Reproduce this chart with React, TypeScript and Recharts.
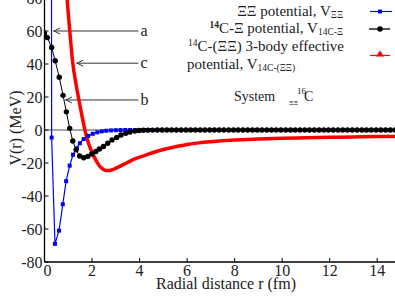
import React from "react";
import { LineChart, Line, XAxis, YAxis, ReferenceLine } from "recharts";

// Xi-Xi potential (blue)
const blueR = [0.15, 0.3, 0.44, 0.61, 0.77, 0.91, 1.06, 1.2, 1.36, 1.49, 1.65, 1.84, 2.03, 2.22, 2.41, 2.6, 2.8, 3.0, 3.2, 3.4, 3.6, 3.8, 4.0, 4.2, 4.4];
const blueV = [2500, -4.6, -69, -61, -45, -31, -21.6, -15, -11, -8, -5.5, -3.6, -2.3, -1.4, -0.8, -0.45, -0.25, -0.12, -0.05, 0, 0, 0, 0, 0, 0];

// 14C-Xi potential (black)
const blackR = [
  0, 0.12, 0.3, 0.45, 0.62, 0.78, 0.92, 1.06, 1.19, 1.33, 1.48, 1.65, 1.82, 1.99, 2.16, 2.31, 2.48, 2.66, 2.84,
  3.04, 3.22, 3.42, 3.6, 3.8, 3.98, 4.16, 4.35, 4.55, 4.75, 4.95, 5.15, 5.35, 5.55, 5.75, 5.95, 6.15, 6.35, 6.55,
  6.75, 6.95, 7.15, 7.35, 7.55, 7.75, 7.95, 8.15, 8.35, 8.55, 8.75, 8.95, 9.15, 9.35, 9.55, 9.75, 9.95, 10.15,
  10.35, 10.55, 10.75, 10.95, 11.15, 11.35, 11.55, 11.75, 11.95, 12.15, 12.35, 12.55, 12.75, 12.95, 13.15, 13.35,
  13.55, 13.75, 13.95, 14.15, 14.35, 14.55, 14.75, 14.95,
];
const blackV = [
  58.5, 56, 50, 42, 32, 21, 11, 1, -6.7, -12, -15.8, -16.8, -16, -14.5, -13, -11.5, -10, -8, -6,
  -4.5, -3, -2, -1.2, -0.6, -0.3, -0.15, -0.08, -0.05, -0.03, 0, 0, 0, 0, 0, 0, 0, 0, 0,
  0, 0, 0, 0, 0, 0, 0, 0, 0, 0, 0, 0, 0, 0, 0, 0, 0, 0,
  0, 0, 0, 0, 0, 0, 0, 0, 0, 0, 0, 0, 0, 0, 0, 0,
  0, 0, 0, 0, 0, 0, 0, 0,
];

// 14C-(XiXi) 3-body effective potential (red)
const redR = [0.8, 0.88, 0.95, 1.07, 1.19, 1.3, 1.45, 1.57, 1.7, 1.85, 2.0, 2.15, 2.3, 2.45, 2.6, 2.75, 2.9, 3.1, 3.45, 3.8, 4.2, 4.6, 5.0, 5.5, 6.0, 6.5, 7.0, 8.0, 9.0, 10.0, 11.0, 12.0, 13.0, 14.0, 15.0];
const redV = [112, 95, 80, 59, 40.6, 30, 18, 9, 0, -8, -13.5, -18, -21.5, -23.6, -24.5, -24.5, -23.8, -22.5, -20, -17.5, -15.5, -13.5, -11.8, -10.2, -8.8, -7.8, -7.1, -6.1, -5.5, -5.0, -4.7, -4.4, -4.2, -4.0, -3.9];

const xTicks = [0, 2, 4, 6, 8, 10, 12, 14];
const yTicks = [-80, -60, -40, -20, 0, 20, 40, 60, 80];

// arrows: [label, tip r, tail r, V]
const arrows: [string, number, number, number][] = [
  ["a", 0.36, 3.95, 60],
  ["c", 1.33, 3.95, 40.5],
  ["b", 0.86, 3.95, 18.2],
];

const zip = (rs: number[], vs: number[]) => rs.map((r, i) => ({ r, v: vs[i] }));
const blueData = zip(blueR, blueV);
const blackData = zip(blackR, blackV);
const redData = zip(redR, redV);

const FONT = "Liberation Serif, DejaVu Serif, serif";

const squareDot = (p: any) => (
  <rect key={`sq-${p.index}`} x={p.cx - 2} y={p.cy - 2} width={4} height={4} fill="#0000ff" />
);
const circleDot = (p: any) => <circle key={`c-${p.index}`} cx={p.cx} cy={p.cy} r={2.7} fill="#000" />;

const XTick = (p: any) => (
  <text
    x={p.x + (p.payload.value === 0 ? 3 : 0)}
    y={p.y}
    dy="0.71em"
    textAnchor="middle"
    fontSize={16}
    fill="#222"
    fontFamily={FONT}
  >
    {p.payload.value}
  </text>
);

const YTick = (p: any) => (
  <text x={p.x} y={p.y} dy="0.355em" textAnchor="end" fontSize={16} fill="#222" fontFamily={FONT}>
    {p.payload.value}
  </text>
);

const arrowShape = (label: string) => (p: any) => {
  const tip = Math.min(p.x1, p.x2);
  const end = Math.max(p.x1, p.x2);
  const y = p.y1;
  return (
    <g>
      <line x1={tip} y1={y} x2={end} y2={y} stroke="#333" strokeWidth={1} />
      <polyline points={`${tip + 7},${y - 3} ${tip + 1},${y} ${tip + 7},${y + 3}`} fill="none" stroke="#333" strokeWidth={1} />
      <text x={end + 2} y={y} dy="0.32em" fontSize={16} fill="#222" fontFamily={FONT}>
        {label}
      </text>
    </g>
  );
};

export default function App() {
  return (
    <div style={{ fontFamily: FONT }}>
      <div style={{ position: "absolute", left: 0, top: -40, width: 395, height: 339, overflow: "hidden" }}>
        <LineChart
          width={402}
          height={339}
          margin={{ top: 5, right: 1, bottom: 0, left: 0 }}
          style={{ fontFamily: FONT }}
        >
          <XAxis
            dataKey="r"
            type="number"
            domain={[0, 15]}
            allowDataOverflow
            ticks={xTicks}
            height={37}
            tickSize={-4}
            tickMargin={7}
            tick={XTick}
            axisLine={{ stroke: "#000", strokeWidth: 1.3 }}
            tickLine={{ stroke: "#000" }}
          />
          <YAxis
            dataKey="v"
            type="number"
            domain={[-80, 100]}
            allowDataOverflow
            ticks={yTicks}
            width={44.5}
            tickSize={-4}
            tickMargin={6}
            tick={YTick}
            axisLine={{ stroke: "#000", strokeWidth: 1.3 }}
            tickLine={{ stroke: "#000" }}
          />
          <ReferenceLine y={0} stroke="#888" strokeWidth={1.5} />
          {arrows.map(([label, tip, tail, v]) => (
            <ReferenceLine
              key={label}
              segment={[{ x: tip, y: v }, { x: tail, y: v }]}
              ifOverflow="visible"
              shape={arrowShape(label)}
            />
          ))}
          <Line
            data={blueData}
            dataKey="v"
            type="linear"
            stroke="#0000ff"
            strokeWidth={1.2}
            dot={squareDot}
            isAnimationActive={false}
          />
          <Line
            data={blackData}
            dataKey="v"
            type="linear"
            stroke="#000"
            strokeWidth={1}
            dot={circleDot}
            isAnimationActive={false}
          />
          <Line
            data={redData}
            dataKey="v"
            type="monotone"
            stroke="#ff0000"
            strokeWidth={3.5}
            dot={false}
            isAnimationActive={false}
          />
        </LineChart>
      </div>
      <svg
        width={395}
        height={299}
        style={{ position: "absolute", left: 0, top: 0, pointerEvents: "none" }}
        fontFamily={FONT}
        fill="#222"
      >
        {/* legend */}
        <text x={343} y={16} textAnchor="end" fontSize={15}>
          ΞΞ potential, V<tspan fontSize={9.5} dy={2}>ΞΞ</tspan>
        </text>
        <text x={343} y={33} textAnchor="end" fontSize={15}>
          <tspan fontSize={9.5} fontWeight="bold" dy={-5}>14</tspan>
          <tspan dy={5}>C-Ξ potential, V</tspan>
          <tspan fontSize={9.5} dy={2}>14C-Ξ</tspan>
        </text>
        <text x={344} y={51} textAnchor="end" fontSize={15}>
          <tspan fontSize={9.5} dy={-5}>14</tspan>
          <tspan dy={5}>C-(ΞΞ) 3-body effective</tspan>
        </text>
        <text x={187} y={69} fontSize={15}>
          potential, V<tspan fontSize={9.5} dy={2}>14C-(ΞΞ)</tspan>
        </text>
        <line x1={370} y1={11.5} x2={392} y2={11.5} stroke="#0000ff" strokeWidth={1.2} />
        <rect x={378} y={9.5} width={4} height={4} fill="#0000ff" />
        <line x1={369} y1={29} x2={390} y2={29} stroke="#555" strokeWidth={2} />
        <circle cx={380} cy={29} r={2.8} fill="#000" />
        <line x1={370} y1={55.5} x2={390} y2={55.5} stroke="#ff0000" strokeWidth={1.2} />
        <polygon points="380,50.5 376,56.5 384,56.5" fill="#ff0000" />

        {/* system title */}
        <text x={234} y={101} fontSize={14}>System</text>
        <text x={289} y={105} fontSize={7}>ΞΞ</text>
        <text x={297} y={94} fontSize={9}>16</text>
        <text x={304} y={101} fontSize={14}>C</text>

        {/* axis titles */}
        <text x={226} y={289} textAnchor="middle" fontSize={16}>Radial distance r (fm)</text>
        <text x={21} y={128} textAnchor="middle" fontSize={16} transform="rotate(-90 21 128)">
          V(r) (MeV)
        </text>
      </svg>
    </div>
  );
}
